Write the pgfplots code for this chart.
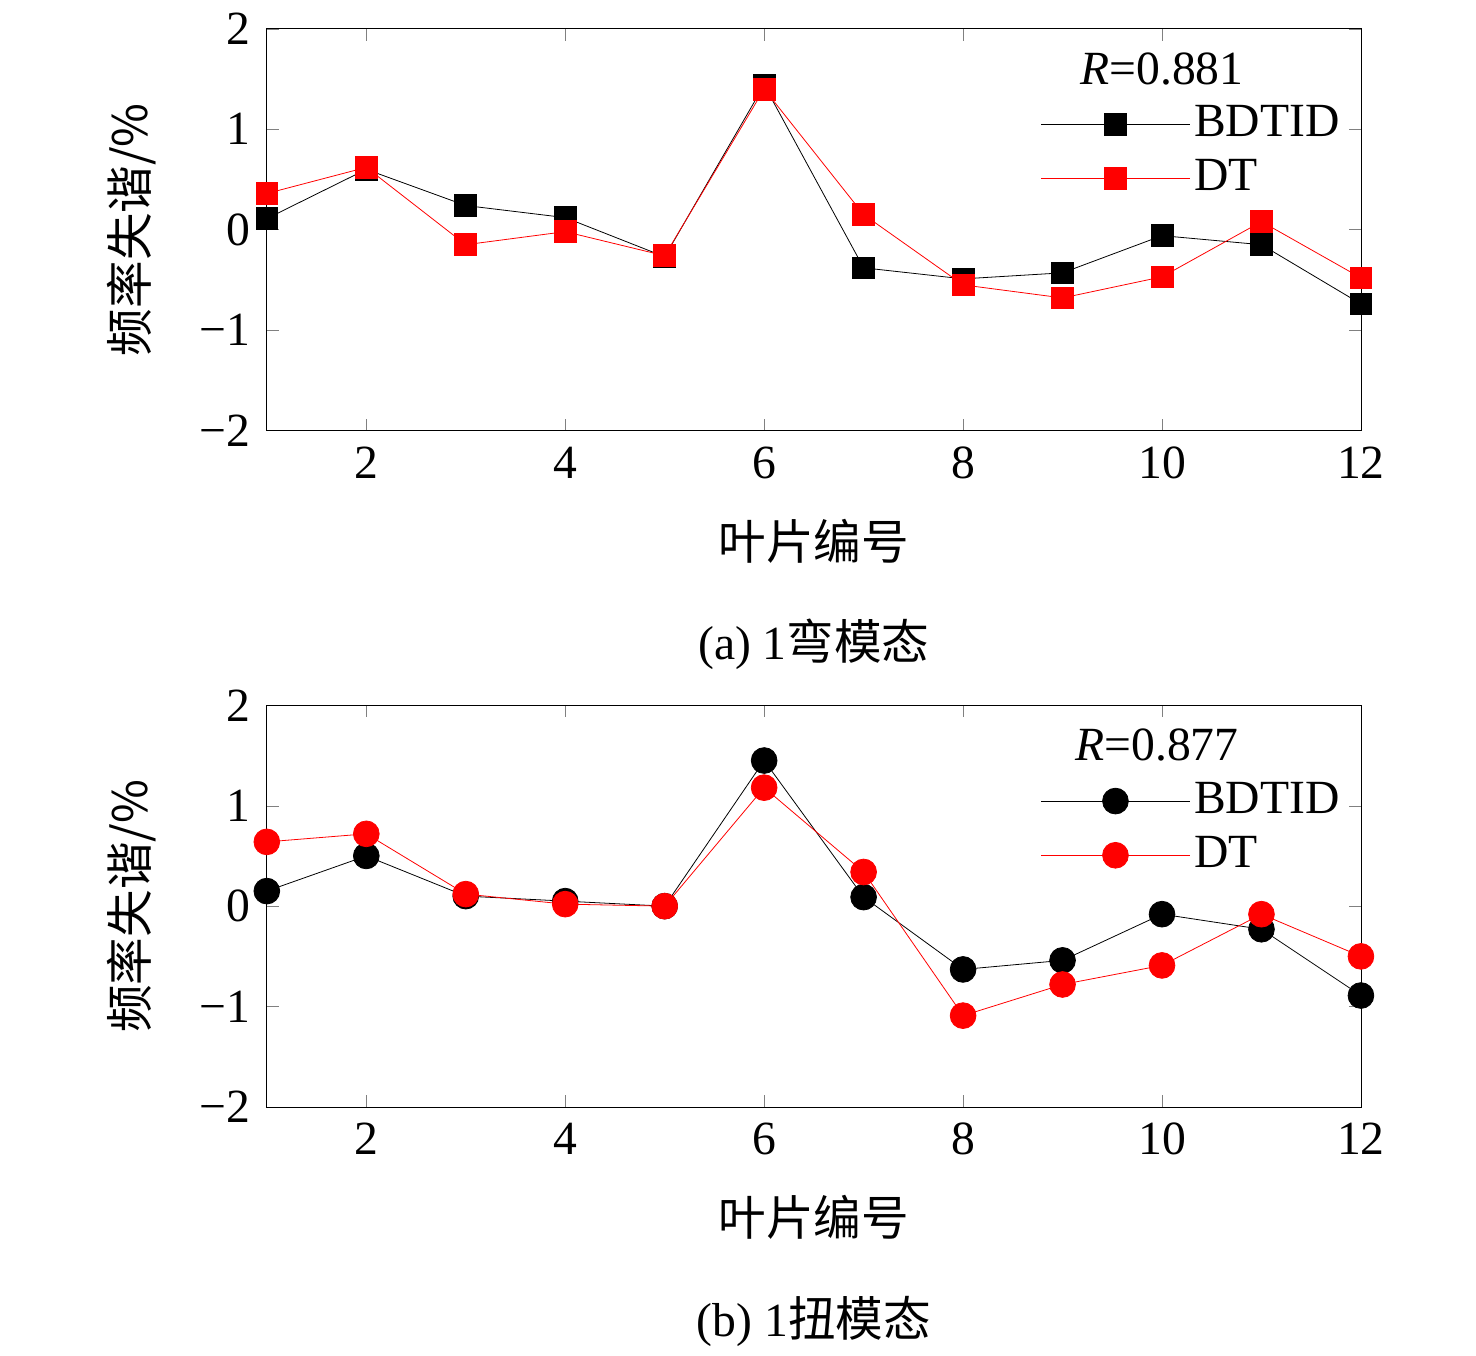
\documentclass[border=0pt]{standalone}
\usepackage{pgfplots}
\pgfplotsset{compat=1.18}
\usepackage{fontspec}
\setmainfont{Liberation Serif}
\newfontfamily\cjk{Noto Sans CJK SC}
\begin{document}
\fontsize{24}{28}\selectfont
\pgfplotsset{myax/.style={
  width=551.5pt, height=202.5pt, scale only axis,
  xmin=1, xmax=12, ymin=-2, ymax=2,
  xtick={2,4,6,8,10,12}, ytick={-2,-1,0,1,2},
  yticklabels={−2,−1,0,1,2},
  tick align=inside, major tick length=6pt,
  tick label style={font=\fontsize{24}{28}\selectfont},
  /pgf/number format/assume math mode=true,
  xlabel={\cjk 叶片编号}, ylabel={\cjk 频率失谐/\%},
  label style={font=\fontsize{24}{28}\selectfont},
  xlabel style={yshift=-4pt},
  ylabel style={at={(rel axis cs:-0.124,0.5)}, anchor=center},
  legend cell align=left,
  legend style={draw=none, fill=none, at={(0.99,0.83)}, anchor=north east, font=\fontsize{24}{28}\selectfont, row sep=4pt},
  legend image code/.code={\draw[#1] (0pt,0pt) -- (75pt,0pt); \draw[#1, only marks] plot coordinates {(37.5pt,0pt)};},
  clip=false,
}}
\begin{tikzpicture}
\path[use as bounding box] (-128.5pt,-466.5pt) rectangle (609.5pt,217pt);
\begin{axis}[myax, name=top, at={(0,0)}, anchor=south west]
\addplot[black, mark=square*, mark size=5.5pt] coordinates {(1,0.11)(2,0.6)(3,0.24)(4,0.12)(5,-0.27)(6,1.44)(7,-0.38)(8,-0.49)(9,-0.43)(10,-0.06)(11,-0.15)(12,-0.74)};
\addplot[red, mark=square*, mark size=5.5pt] coordinates {(1,0.36)(2,0.62)(3,-0.15)(4,-0.02)(5,-0.26)(6,1.40)(7,0.15)(8,-0.55)(9,-0.68)(10,-0.47)(11,0.08)(12,-0.48)};
\legend{BDTID, DT}
\node[anchor=center] at (axis cs:10.0,1.6) {\textit{R}=0.881};
\node at (rel axis cs:0.5,-0.533) {(a) 1{\cjk 弯模态}};
\end{axis}
\begin{axis}[myax, at={(0,-341pt)}, anchor=south west]
\addplot[black, mark=*, mark size=6.5pt] coordinates {(1,0.15)(2,0.5)(3,0.1)(4,0.05)(5,0)(6,1.45)(7,0.09)(8,-0.63)(9,-0.54)(10,-0.08)(11,-0.23)(12,-0.89)};
\addplot[red, mark=*, mark size=6.5pt] coordinates {(1,0.64)(2,0.72)(3,0.12)(4,0.02)(5,0)(6,1.18)(7,0.34)(8,-1.09)(9,-0.78)(10,-0.59)(11,-0.08)(12,-0.5)};
\legend{BDTID, DT}
\node[anchor=center] at (axis cs:9.95,1.6) {\textit{R}=0.877};
\node at (rel axis cs:0.5,-0.533) {(b) 1{\cjk 扭模态}};
\end{axis}
\end{tikzpicture}
\end{document}
